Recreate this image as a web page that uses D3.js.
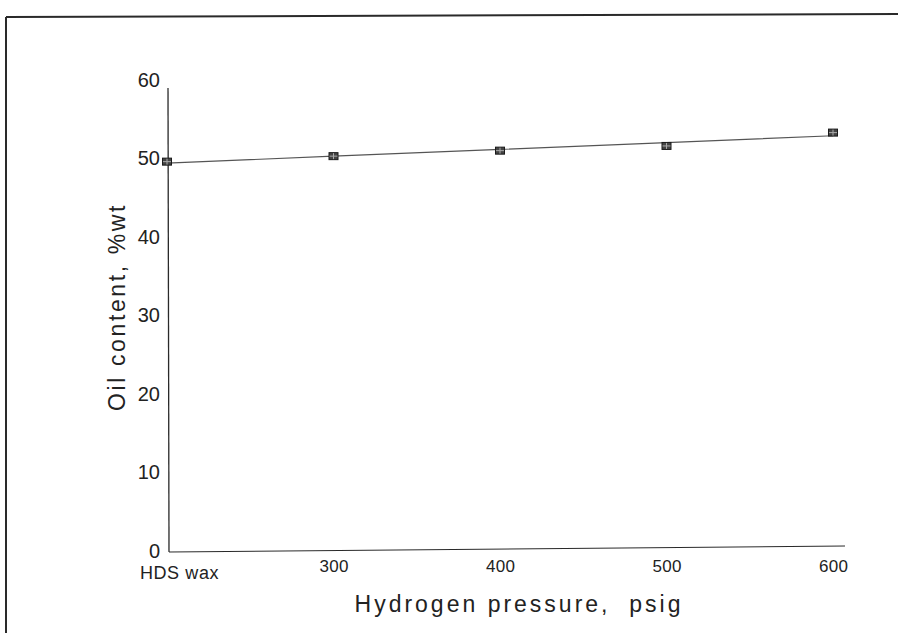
<!DOCTYPE html>
<html>
<head>
<meta charset="utf-8">
<script src="https://cdn.jsdelivr.net/npm/d3@7"></script>
<style>
  html, body { margin: 0; padding: 0; background: #fff; }
  svg { display: block; }
  text { font-family: "Liberation Sans", Arial, sans-serif; fill: #222; }
</style>
</head>
<body>
<svg id="chart" width="898" height="633"></svg>
<script>
// ---- data ----
const categories = ["HDS wax", "300", "400", "500", "600"];
const oilContent = [49.6, 50.3, 51.0, 51.6, 53.3];
const yTicks = [0, 10, 20, 30, 40, 50, 60];
const xTitle = "Hydrogen pressure,  psig";
const yTitle = "Oil content, %wt";

const svg = d3.select("#chart");
const ink = "#2a2a2a";

// frame (left and top borders of the scanned figure)
svg.append("line").attr("x1", 6).attr("y1", 17).attr("x2", 6).attr("y2", 633)
  .attr("stroke", ink).attr("stroke-width", 2);
svg.append("line").attr("x1", 6).attr("y1", 17).attr("x2", 898).attr("y2", 14)
  .attr("stroke", ink).attr("stroke-width", 2);

const x = d3.scalePoint().domain(categories).range([167, 833]);
const y = d3.scaleLinear().domain([0, 60]).range([551, 80]);

// y axis
const yAxis = svg.append("g").attr("transform", "translate(168,0)")
  .call(d3.axisLeft(y).tickValues(yTicks).tickSize(0).tickPadding(8).tickFormat(d3.format("d")));
yAxis.select(".domain").remove();
yAxis.selectAll("text").style("font-size", "20px").attr("fill", "#222");
svg.append("line").attr("x1", 168).attr("x2", 169).attr("y1", 88).attr("y2", 552)
  .attr("stroke", ink).attr("stroke-width", 1.3);

// x axis
const xAxis = svg.append("g").attr("transform", "translate(0,550)")
  .call(d3.axisBottom(x).tickSize(0).tickPadding(8));
xAxis.select(".domain").remove();
xAxis.selectAll("text").attr("fill", "#222")
  .style("font-size", (d, i) => i === 0 ? "18px" : "17px")
  .attr("dy", (d, i) => i === 0 ? "1.15em" : "0.85em")
  .attr("dx", (d, i) => i === 0 ? 12 : 0)
  .style("letter-spacing", (d, i) => i === 0 ? "0.6px" : "0.3px");
svg.append("line").attr("x1", 169).attr("x2", 845).attr("y1", 552).attr("y2", 546)
  .attr("stroke", ink).attr("stroke-width", 1.1);

// trend line (least-squares fit through the points)
const xi = categories.map((c, i) => i);
const mx = d3.mean(xi), my = d3.mean(oilContent);
const slope = d3.sum(xi, (v, i) => (v - mx) * (oilContent[i] - my)) / d3.sum(xi, v => (v - mx) ** 2);
const icpt = my - slope * mx;
const fit = categories.map((c, i) => ({ c, v: icpt + slope * i }));
svg.append("path").datum(fit)
  .attr("d", d3.line().x(d => x(d.c)).y(d => y(d.v)))
  .attr("fill", "none").attr("stroke", "#555").attr("stroke-width", 1.2);

// markers
const pts = svg.append("g").selectAll("g").data(categories).join("g")
  .attr("transform", (c, i) => `translate(${x(c)},${y(oilContent[i])})`);
pts.append("rect").attr("x", -4.5).attr("y", -3.5).attr("width", 9).attr("height", 7)
  .attr("fill", "#444").attr("stroke", "#1a1a1a").attr("stroke-width", 1);
pts.append("line").attr("x1", -4).attr("x2", 4).attr("y1", 0).attr("y2", 0)
  .attr("stroke", "#aaa").attr("stroke-width", 1);
pts.append("line").attr("x1", 0).attr("x2", 0).attr("y1", -3).attr("y2", 3)
  .attr("stroke", "#aaa").attr("stroke-width", 1);

// axis titles
svg.append("text").attr("x", 519).attr("y", 612).attr("text-anchor", "middle")
  .style("font-size", "23px").style("letter-spacing", "3px").style("white-space", "pre")
  .text(xTitle);
svg.append("text").attr("transform", "translate(125,307) rotate(-90)").attr("text-anchor", "middle")
  .style("font-size", "23px").style("letter-spacing", "2.6px").text(yTitle);
</script>
</body>
</html>
